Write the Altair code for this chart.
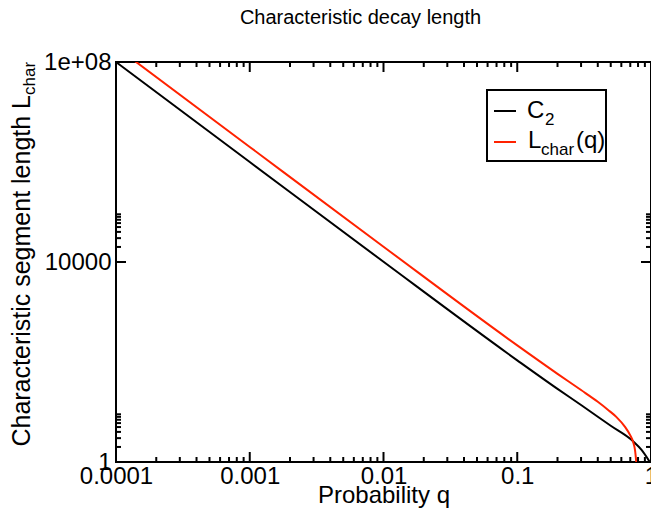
import altair as alt
import pandas as pd

# ---- data ----
q_c2 = [1e-4, 1e-3, 1e-2, 0.1, 0.2, 0.3, 0.5, 0.735, 0.85, 0.98]
v_c2 = [1e8, 1e6, 1.01e4, 108, 29, 13.8, 5.3, 2.6, 1.75, 1.0]

q_lchar = [1e-4, 1e-3, 1e-2, 0.1, 0.2, 0.3, 0.4, 0.478, 0.55, 0.637, 0.7, 0.734, 0.76, 0.776]
v_lchar = [2.0e8, 2.0e6, 2.02e4, 215, 58, 27.5, 16, 11, 8.0, 5.1, 3.4, 2.55, 1.7, 1.0]

series_names = ["C2", "Lchar"]
series_colors = ["#000000", "#ff2200"]

x_major = [1e-4, 1e-3, 1e-2, 1e-1, 1.0]
x_labels = ["0.0001", "0.001", "0.01", "0.1", "1"]
x_minor = [k * d for d in [1e-4, 1e-3, 1e-2, 1e-1] for k in range(2, 10)]
y_major = [1.0, 1e4, 1e8]
y_labels = ["1", "10000", "1e+08"]
y_minor = [k * d for d in [1.0, 1e4] for k in range(2, 10)]

W, H = 535, 400
FONT = "Liberation Sans"

df = pd.concat([
    pd.DataFrame({"q": q_c2, "v": v_c2, "series": series_names[0]}),
    pd.DataFrame({"q": q_lchar, "v": v_lchar, "series": series_names[1]}),
])

xs = alt.Scale(type="log", domain=[1e-4, 1.0])
ys = alt.Scale(type="log", domain=[1.0, 1e8])

x_label_expr = " : ".join(
    f"datum.value == {v} ? '{l}'" for v, l in zip(x_major, x_labels)
) + " : ''"
y_label_expr = " : ".join(
    f"datum.value == {v} ? '{l}'" for v, l in zip(y_major, y_labels)
) + " : ''"

x_axis = alt.Axis(
    values=x_major, labelExpr=x_label_expr, ticks=False, domain=False, grid=False,
    labelFontSize=24, labelFont=FONT, labelColor="black", labelPadding=2,
    title="Probability q", titleFontSize=24, titleFont=FONT, titleFontWeight="normal",
    titleColor="black", titlePadding=-5, labelFlush=False, labelOverlap=False)
y_axis = alt.Axis(
    values=y_major, labelExpr=y_label_expr, ticks=False, domain=False, grid=False,
    labelFontSize=24, labelFont=FONT, labelColor="black", labelPadding=5,
    title=None, labelFlush=False, labelOverlap=False)

lines = alt.Chart(df).mark_line(clip=True, strokeWidth=2, interpolate="monotone").encode(
    x=alt.X("q:Q", scale=xs, axis=x_axis),
    y=alt.Y("v:Q", scale=ys, axis=y_axis),
    color=alt.Color("series:N", scale=alt.Scale(domain=series_names, range=series_colors), legend=None),
    detail="series:N",
)

def xticks(vals, y0, y1):
    return alt.Chart(pd.DataFrame({"q": vals})).mark_rule(color="black", strokeWidth=2).encode(
        x=alt.X("q:Q", scale=xs, axis=x_axis), y=alt.value(y0), y2=alt.value(y1))

def yticks(vals, x0, x1):
    return alt.Chart(pd.DataFrame({"v": vals})).mark_rule(color="black", strokeWidth=2).encode(
        y=alt.Y("v:Q", scale=ys, axis=y_axis), x=alt.value(x0), x2=alt.value(x1))

ticks = [
    xticks(x_major, H, H - 10), xticks(x_minor, H, H - 5),
    xticks(x_major, 0, 10), xticks(x_minor, 0, 5),
    yticks(y_major, 0, 10), yticks(y_minor, 0, 5),
    yticks(y_major, W, W - 10), yticks(y_minor, W, W - 5),
]

one = pd.DataFrame({"k": [0]})

def txt(text, x, y, size, color="black", angle=0, align="left", baseline="middle"):
    return alt.Chart(one).mark_text(
        text=text, font=FONT, fontSize=size, color=color, angle=angle,
        align=align, baseline=baseline).encode(x=alt.value(x), y=alt.value(y))

# y-axis title with subscript
ytitle = [
    txt("Characteristic segment length L", -94, 33, 25, angle=270, align="right"),
    txt("char", -86, 33, 17, angle=270, align="left"),
]

# legend box
legend_box = alt.Chart(one).mark_rect(fill="white", stroke="black", strokeWidth=2).encode(
    x=alt.value(371), x2=alt.value(490), y=alt.value(28), y2=alt.value(99))
legend_lines = [
    alt.Chart(one).mark_rule(color=series_colors[0], strokeWidth=2).encode(
        x=alt.value(378), x2=alt.value(400), y=alt.value(49)),
    alt.Chart(one).mark_rule(color=series_colors[1], strokeWidth=2).encode(
        x=alt.value(378), x2=alt.value(400), y=alt.value(80)),
]
legend_text = [
    txt("C", 411, 49, 24),
    txt("2", 429, 58, 17),
    txt("L", 412, 79, 24),
    txt("char", 425, 88, 17),
    txt("(q)", 460, 79, 24),
]

chart = alt.layer(lines, *ticks, *ytitle, legend_box, *legend_lines, *legend_text).properties(
    width=W, height=H,
    background="white",
    title=alt.TitleParams("Characteristic decay length", font=FONT, fontSize=20,
                          fontWeight="normal", color="black", anchor="middle",
                          dx=-23, offset=22),
    autosize=alt.AutoSizeParams(type="none"),
    padding={"left": 108, "top": 54, "right": 0, "bottom": 48},
).configure_view(stroke="black", strokeWidth=2)

chart.save("out.html", embed_options={"renderer": "svg", "actions": False})
